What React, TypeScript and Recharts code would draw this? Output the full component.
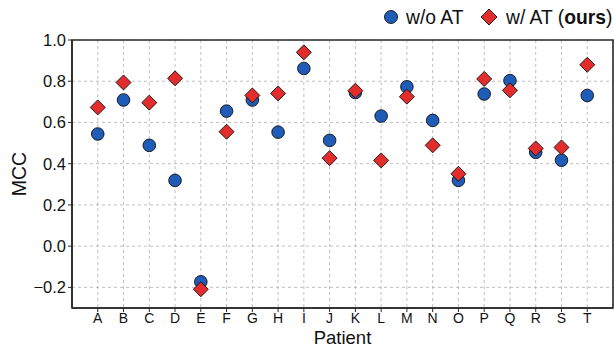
import React from 'react';
import {
  ScatterChart,
  Scatter,
  XAxis,
  YAxis,
  CartesianGrid,
  ReferenceArea,
  Label,
} from 'recharts';

// patients and MCC per patient
const patients = ['A', 'B', 'C', 'D', 'E', 'F', 'G', 'H', 'I', 'J', 'K', 'L', 'M', 'N', 'O', 'P', 'Q', 'R', 'S', 'T'];
const withoutAT = [0.544, 0.709, 0.489, 0.319, -0.173, 0.655, 0.709, 0.553, 0.862, 0.513, 0.745, 0.631, 0.773, 0.61, 0.319, 0.738, 0.803, 0.455, 0.417, 0.731];
const withAT = [0.673, 0.794, 0.696, 0.814, -0.209, 0.555, 0.731, 0.741, 0.94, 0.427, 0.754, 0.416, 0.725, 0.489, 0.351, 0.811, 0.756, 0.474, 0.479, 0.88];
const yTicks = [-0.2, 0, 0.2, 0.4, 0.6, 0.8, 1.0];

const BLUE = '#1f5cb8';
const RED = '#e32d2d';
const FONT = '"Liberation Sans", Arial, sans-serif';

const blueData = patients.map((p, i) => ({ x: i, y: withoutAT[i], name: p }));
const redData = patients.map((p, i) => ({ x: i, y: withAT[i], name: p }));

const Dot = (props: any) => (
  <circle cx={props.cx} cy={props.cy} r={6.3} fill={BLUE} stroke="#111" strokeWidth={0.9} />
);

const diamondPath = (cx: number, cy: number, s: number) =>
  `M${cx},${cy - s}L${cx + s},${cy}L${cx},${cy + s}L${cx - s},${cy}Z`;

const Diamond = (props: any) => (
  <path d={diamondPath(props.cx, props.cy, 7.5)} fill={RED} stroke="#111" strokeWidth={0.9} />
);

const fmtY = (v: number) => v.toFixed(1).replace('-', '\u2212');

export default function App() {
  return (
    <div style={{ position: 'absolute', left: 0, top: 0, width: 614, height: 347, background: '#fff', fontFamily: FONT }}>
      <ScatterChart width={614} height={347} margin={{ top: 40, right: 1, bottom: 0, left: 0 }}>
        <CartesianGrid stroke="#b0b0b0" strokeDasharray="3 3" strokeWidth={0.8} />
        <XAxis
          type="number"
          dataKey="x"
          domain={[-1, 20]}
          ticks={patients.map((_, i) => i)}
          tickFormatter={(v: number) => patients[v] ?? ''}
          interval={0}
          height={39}
          axisLine={{ stroke: '#2a2a2a', strokeWidth: 1.6 }}
          tickLine={{ stroke: '#2a2a2a' }}
          tickSize={4}
          tickMargin={1}
          tick={{ fill: '#111', fontSize: 14, fontFamily: FONT }}
          allowDataOverflow
        >
          <Label value="Patient" position="insideBottom" offset={3} style={{ fill: '#111', fontSize: 18.5, fontFamily: FONT }} />
        </XAxis>
        <YAxis
          type="number"
          dataKey="y"
          domain={[-0.3, 1.0]}
          ticks={yTicks}
          tickFormatter={fmtY}
          width={72}
          axisLine={{ stroke: '#2a2a2a', strokeWidth: 1.6 }}
          tickLine={{ stroke: '#2a2a2a' }}
          tickSize={4}
          tick={{ fill: '#111', fontSize: 16.5, fontFamily: FONT }}
          allowDataOverflow
        >
          <Label value="MCC" angle={-90} position="insideLeft" offset={19} style={{ fill: '#111', fontSize: 19.5, fontFamily: FONT, textAnchor: 'middle' }} />
        </YAxis>
        <ReferenceArea x1={-1} x2={20} y1={-0.3} y2={1.0} fill="none" stroke="#2a2a2a" strokeWidth={1.6} ifOverflow="visible" />
        <Scatter name="w/o AT" data={blueData} shape={Dot} isAnimationActive={false} />
        <Scatter name="w/ AT (ours)" data={redData} shape={Diamond} isAnimationActive={false} />
      </ScatterChart>
      <svg width={614} height={34} style={{ position: 'absolute', left: 0, top: 0 }}>
        <circle cx={391} cy={17} r={6.5} fill={BLUE} stroke="#111" strokeWidth={0.9} />
        <text x={406} y={24} fontSize={19.3} fontFamily={FONT} fill="#111">w/o AT</text>
        <path d={diamondPath(489, 17, 8)} fill={RED} stroke="#111" strokeWidth={0.9} />
        <text x={506} y={24} fontSize={19.3} fontFamily={FONT} fill="#111">
          w/ AT (<tspan fontWeight="bold">ours</tspan>)
        </text>
      </svg>
    </div>
  );
}
